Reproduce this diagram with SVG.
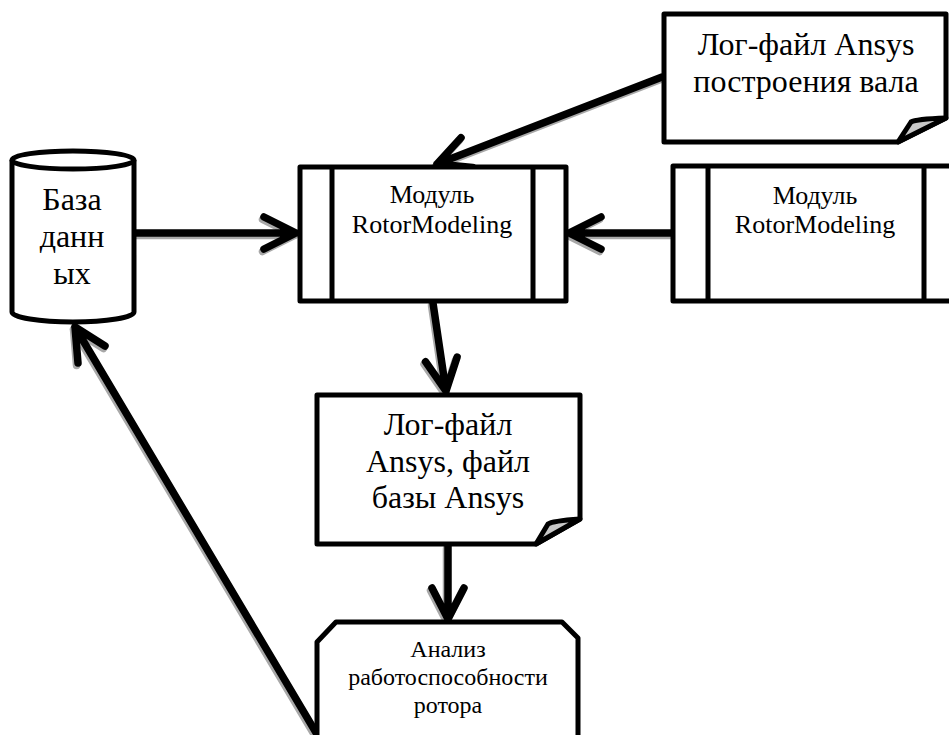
<svg xmlns="http://www.w3.org/2000/svg" width="949" height="735" viewBox="0 0 949 735">
<style>
.shape{fill:#fff;stroke:#000;stroke-width:5;stroke-linejoin:round}
.line{fill:none;stroke:#000;stroke-width:5}
.flap{fill:#c8c8c8;stroke:#000;stroke-width:5;stroke-linejoin:round}
.conn{fill:none;stroke:#000;stroke-width:7.5;stroke-linecap:round;stroke-linejoin:round}
.shadow{fill:none;stroke:#a8a8a8;stroke-width:7.5;stroke-linecap:round;stroke-linejoin:round}
.lbl{font-family:'Liberation Serif','Times New Roman',serif;fill:#000;text-anchor:middle}
.t32{font-size:32px}
.t26{font-size:26px}
.t24{font-size:24px}
</style>
<rect width="949" height="735" fill="#fff"/>

<g id="connectors">
  <g transform="translate(-1.5,2.5)">
    <path class="shadow" d="M135,233 L296,233 M264,217 L296,233 L264,249"/>
    <path class="shadow" d="M672,233 L569,233 M601,217 L569,233 L601,249"/>
    <path class="shadow" d="M662,77 L437,164 M461,137.7 L437,164 L472.6,167.5"/>
    <path class="shadow" d="M433,303 L446,391 M425.5,361.7 L446,391 L457.1,357.1"/>
    <path class="shadow" d="M448,546 L448,619 M432,588 L448,619 L464,588"/>
    <path class="shadow" d="M318,736 L75,327 M78,363 L75,327 L105,346"/>
  </g>
  <path class="conn" d="M135,233 L296,233 M264,217 L296,233 L264,249"/>
  <path class="conn" d="M672,233 L569,233 M601,217 L569,233 L601,249"/>
  <path class="conn" d="M662,77 L437,164 M461,137.7 L437,164 L472.6,167.5"/>
  <path class="conn" d="M433,303 L446,391 M425.5,361.7 L446,391 L457.1,357.1"/>
  <path class="conn" d="M448,546 L448,619 M432,588 L448,619 L464,588"/>
  <path class="conn" d="M318,736 L75,327 M78,363 L75,327 L105,346"/>
</g>

<g id="database">
  <path class="shape" d="M12,160 V312 A61,10 0 0 0 134,312 V160 A61,9 0 0 0 12,160 Z"/>
  <path class="line" d="M12,160 A61,9 0 0 0 134,160"/>
  <g class="lbl t32" font-family="Liberation Serif, serif">
    <text x="72" y="210">База</text>
    <text x="72" y="247">данн</text>
    <text x="72" y="284">ых</text>
  </g>
</g>

<g id="module1">
  <rect class="shape" x="300" y="167" width="266" height="134"/>
  <path class="line" d="M332,167 V301 M533,167 V301"/>
  <g class="lbl t26" font-family="Liberation Serif, serif">
    <text x="432" y="203">Модуль</text>
    <text x="432" y="233">RotorModeling</text>
  </g>
</g>

<g id="module2">
  <rect class="shape" x="673" y="166" width="284" height="135"/>
  <path class="line" d="M708,166 V301 M924,166 V301"/>
  <g class="lbl t26" font-family="Liberation Serif, serif">
    <text x="815" y="204">Модуль</text>
    <text x="815" y="233">RotorModeling</text>
  </g>
</g>

<g id="logfile-shaft">
  <path class="shape" d="M664,14 H946 V118 L898,142 H664 Z"/>
  <path class="flap" d="M898,142 L911,122 Q916,119 946,118 Z"/>
  <g class="lbl t32" font-family="Liberation Serif, serif">
    <text x="806" y="55">Лог-файл Ansys</text>
    <text x="806" y="92">построения вала</text>
  </g>
</g>

<g id="logfile-base">
  <path class="shape" d="M317,395 H580 V519 L536,544 H317 Z"/>
  <path class="flap" d="M536,544 L548,524 Q552,521 580,519 Z"/>
  <g class="lbl t32" font-family="Liberation Serif, serif">
    <text x="448" y="435">Лог-файл</text>
    <text x="448" y="472">Ansys, файл</text>
    <text x="448" y="508">базы Ansys</text>
  </g>
</g>

<g id="analysis">
  <path class="shape" d="M317,642 L336,622 H562 L578,638 V745 H317 Z"/>
  <g class="lbl t24" font-family="Liberation Serif, serif">
    <text x="448" y="657">Анализ</text>
    <text x="448" y="685">работоспособности</text>
    <text x="448" y="713">ротора</text>
  </g>
</g>
</svg>
